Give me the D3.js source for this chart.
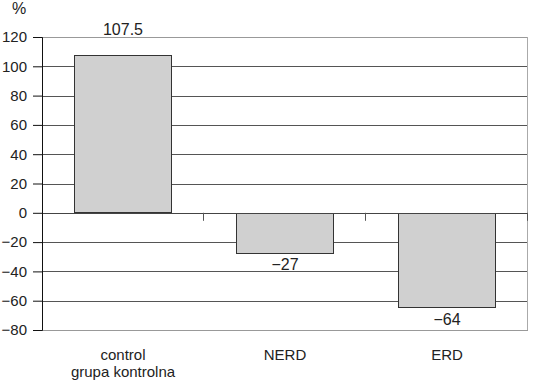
<!DOCTYPE html>
<html>
<head>
<meta charset="utf-8">
<script src="https://cdn.jsdelivr.net/npm/d3@7"></script>
<style>
  body { margin: 0; background: #fff; }
  text { font-family: "Liberation Sans", Arial, sans-serif; fill: #222; }
</style>
</head>
<body>
<script>
// chart data
var categories = ["control", "NERD", "ERD"];
var subLabels = ["grupa kontrolna", "", ""];
var values = [107.5, -27, -64];
var valueLabels = ["107.5", "\u221227", "\u221264"];
var yTicks = [-80, -60, -40, -20, 0, 20, 40, 60, 80, 100, 120];

// Define margins
var margin = {top: 37, right: 6, bottom: 50, left: 42};
var outer_width = 534;
var outer_height = 380;
var svg_width = outer_width - margin.left - margin.right;
var svg_height = outer_height - margin.top - margin.bottom;

var svg = d3.select("body")
  .append("svg")
  .attr("width", outer_width)
  .attr("height", outer_height)
  .append("g")
  .attr("transform", "translate(" + margin.left + "," + margin.top + ")");

var yScale = d3.scaleLinear().domain([-80, 120]).range([svg_height, 0]);
var xScale = d3.scaleBand().domain(categories).range([0, svg_width]).paddingInner(0.4).paddingOuter(0.2);

function fmt(v) { return v < 0 ? "\u2212" + Math.abs(v) : String(v); }

// gridlines
svg.selectAll("line.grid")
  .data(yTicks)
  .enter().append("line")
  .attr("class", "grid")
  .attr("x1", 0).attr("x2", svg_width)
  .attr("y1", function(d) { return Math.round(yScale(d)) + 0.5; })
  .attr("y2", function(d) { return Math.round(yScale(d)) + 0.5; })
  .attr("stroke", function(d) { return (d == 120 || d == -80) ? "#999" : "#555"; })
  .attr("stroke-width", 1);

// right border
svg.append("line")
  .attr("x1", svg_width - 0.5).attr("x2", svg_width - 0.5)
  .attr("y1", 0).attr("y2", svg_height)
  .attr("stroke", "#aaa");

// bars
svg.selectAll("rect.bar")
  .data(values)
  .enter().append("rect")
  .attr("class", "bar")
  .attr("x", function(d, i) { return Math.round(xScale(categories[i])) + 0.5; })
  .attr("width", Math.round(xScale.bandwidth()))
  .attr("y", function(d) { return Math.round(yScale(Math.max(0, d))) + 0.5; })
  .attr("height", function(d) { return Math.round(Math.abs(yScale(d) - yScale(0))); })
  .attr("fill", "#d0d0d0")
  .attr("stroke", "#333")
  .attr("stroke-width", 1);

// zero line
svg.append("line")
  .attr("x1", 0).attr("x2", svg_width)
  .attr("y1", Math.round(yScale(0)) + 0.5).attr("y2", Math.round(yScale(0)) + 0.5)
  .attr("stroke", "#444");

// category separator ticks under zero line
svg.selectAll("line.sep")
  .data([1, 2, 3])
  .enter().append("line")
  .attr("class", "sep")
  .attr("x1", function(d) { return Math.round(d * svg_width / 3) - 0.5; })
  .attr("x2", function(d) { return Math.round(d * svg_width / 3) - 0.5; })
  .attr("y1", yScale(0)).attr("y2", yScale(0) + 8)
  .attr("stroke", "#555");

// y axis
var yAxis = d3.axisLeft(yScale).tickValues(yTicks).tickSize(9).tickPadding(6).tickFormat(fmt);
var yg = svg.append("g").call(yAxis);
yg.select(".domain").attr("stroke", "#111");
yg.selectAll(".tick line").attr("stroke", "#111");
yg.selectAll("text").style("font-size", "15px").style("font-family", "'Liberation Sans', Arial, sans-serif").attr("fill", "#222");

// % label
svg.append("text")
  .attr("x", -30).attr("y", -23)
  .style("font-size", "16px")
  .text("%");

// value labels
svg.selectAll("text.val")
  .data(values)
  .enter().append("text")
  .attr("class", "val")
  .attr("x", function(d, i) { return xScale(categories[i]) + xScale.bandwidth() / 2; })
  .attr("y", function(d) { return d > 0 ? yScale(d) - 20 : yScale(d) + 18; })
  .attr("text-anchor", "middle")
  .style("font-size", "16px")
  .text(function(d, i) { return valueLabels[i]; });

// x labels
svg.selectAll("text.cat")
  .data(categories)
  .enter().append("text")
  .attr("class", "cat")
  .attr("x", function(d) { return xScale(d) + xScale.bandwidth() / 2; })
  .attr("y", svg_height + 30)
  .attr("text-anchor", "middle")
  .style("font-size", "15px")
  .text(function(d) { return d; });

svg.selectAll("text.sub")
  .data(subLabels)
  .enter().append("text")
  .attr("class", "sub")
  .attr("x", function(d, i) { return xScale(categories[i]) + xScale.bandwidth() / 2; })
  .attr("y", svg_height + 47)
  .attr("text-anchor", "middle")
  .style("font-size", "15px")
  .text(function(d) { return d; });
</script>
</body>
</html>
